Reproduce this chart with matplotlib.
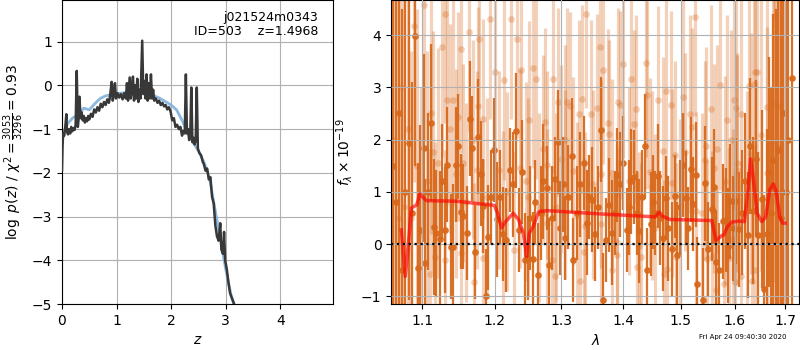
"""
redshift fit summary: p(z) and 1D spectrum (grizli style)
"""

import matplotlib
matplotlib.use('Agg')
import matplotlib.pyplot as plt
import numpy as np
from matplotlib.ticker import NullLocator

# ---- p(z) ----
pz_z = [0.00, 0.01, 0.02, 0.04, 0.06, 0.08, 0.09, 0.11, 0.13, 0.15, 0.17, 0.19, 0.21, 0.23, 0.25,
        0.27, 0.29, 0.31, 0.32, 0.34, 0.36, 0.38, 0.40, 0.42, 0.44, 0.46, 0.48, 0.50, 0.53, 0.56,
        0.59, 0.62, 0.65, 0.68, 0.71, 0.74, 0.77, 0.80, 0.83, 0.86, 0.88, 0.91, 0.93, 0.95, 0.97,
        0.99, 1.02, 1.05, 1.08, 1.11, 1.14, 1.17, 1.19, 1.21, 1.24, 1.26, 1.28, 1.30, 1.32, 1.34,
        1.36, 1.38, 1.40, 1.42, 1.44, 1.47, 1.49, 1.51, 1.53, 1.55, 1.57, 1.59, 1.61, 1.63, 1.65,
        1.67, 1.69, 1.72, 1.75, 1.78, 1.81, 1.84, 1.87, 1.90, 1.93, 1.96, 1.99, 2.02, 2.05, 2.08,
        2.11, 2.14, 2.17, 2.20, 2.22, 2.25, 2.27, 2.29, 2.31, 2.33, 2.35, 2.37, 2.39, 2.41, 2.43,
        2.45, 2.47, 2.49, 2.52, 2.55, 2.58, 2.60, 2.63, 2.66, 2.69, 2.72, 2.75, 2.78, 2.81, 2.84,
        2.87, 2.90, 2.92, 2.95, 2.97, 2.99, 3.02, 3.05, 3.08, 3.11, 3.14, 3.17]
pz_logp = [-1.94, -1.40, -1.10, -1.15, -0.95, -0.66, -1.05, -1.12, -1.00, -1.10, -0.95, -1.05, -0.98, -1.02, -0.90,
           0.33, -0.95, -0.70, -0.26, -0.75, -0.62, -0.80, -0.70, -0.85, -0.75, -0.82, -0.70, -0.78, -0.65, -0.72,
           -0.55, -0.62, -0.50, -0.58, -0.42, -0.50, -0.38, -0.45, -0.32, -0.40, -0.25, 0.08, -0.35, -0.20, 0.05,
           -0.30, -0.18, -0.28, -0.20, -0.32, -0.18, -0.30, 0.05, -0.35, 0.18, -0.30, -0.10, 0.20, -0.35, 0.00,
           -0.30, 0.15, -0.38, -0.10, -0.30, 1.02, -0.20, 0.10, -0.30, 0.25, -0.35, 0.05, -0.30, 0.25, -0.30,
           -0.10, -0.35, -0.30, -0.40, -0.35, -0.45, -0.40, -0.48, -0.45, -0.55, -0.50, -0.60, -0.80, -0.75, -0.95,
           -0.90, -1.00, -0.95, -1.15, -1.05, -1.10, 0.25, -1.10, -1.00, -1.25, -1.15, -0.05, -1.30, -1.20, -1.35,
           -1.25, -0.05, -1.45, -1.55, -1.60, -1.75, -1.80, -1.95, -1.90, -2.15, -2.10, -2.55, -2.70, -3.20, -3.45,
           -3.55, -3.15, -3.75, -3.85, -3.35, -4.00, -4.20, -4.50, -4.75, -4.85, -4.95, -5.05]

prior_z = [0.00, 0.05, 0.10, 0.20, 0.30, 0.40, 0.50, 0.60, 0.70, 0.80, 1.00, 1.20, 1.40, 1.60, 1.80,
           2.00, 2.10, 2.20, 2.30, 2.40, 2.50, 2.60, 2.70, 2.80, 2.90, 3.00, 3.10, 3.15]
prior_logp = [-1.30, -1.00, -0.88, -0.74, -0.68, -0.52, -0.56, -0.42, -0.30, -0.24, -0.19, -0.16, -0.15, -0.19, -0.30,
              -0.45, -0.56, -0.80, -1.08, -1.30, -1.50, -1.75, -2.10, -2.80, -3.50, -4.20, -4.80, -5.00]

# ---- spectrum, first orient (dark) ----
wave_a = [1.062, 1.066, 1.070, 1.074, 1.078, 1.083, 1.087, 1.091, 1.094, 1.097, 1.102, 1.104, 1.108, 1.112, 1.116,
          1.119, 1.124, 1.127, 1.130, 1.134, 1.139, 1.141, 1.146, 1.148, 1.153, 1.156, 1.161, 1.165, 1.168, 1.172,
          1.176, 1.180, 1.183, 1.187, 1.190, 1.195, 1.199, 1.203, 1.208, 1.212, 1.217, 1.222, 1.227, 1.231, 1.236,
          1.240, 1.245, 1.249, 1.252, 1.256, 1.260, 1.264, 1.268, 1.272, 1.277, 1.281, 1.286, 1.290, 1.294, 1.298,
          1.302, 1.306, 1.311, 1.316, 1.319, 1.324, 1.329, 1.336, 1.340, 1.344, 1.348, 1.353, 1.358, 1.363, 1.367,
          1.371, 1.377, 1.382, 1.386, 1.390, 1.395, 1.400, 1.406, 1.410, 1.414, 1.419, 1.423, 1.427, 1.432, 1.437,
          1.441, 1.447, 1.451, 1.455, 1.460, 1.464, 1.468, 1.473, 1.478, 1.485, 1.490, 1.494, 1.499, 1.504, 1.510,
          1.514, 1.519, 1.523, 1.527, 1.530, 1.540, 1.545, 1.550, 1.557, 1.561, 1.565, 1.571, 1.578, 1.583, 1.587,
          1.592, 1.598, 1.603, 1.608, 1.614, 1.620, 1.626, 1.630, 1.636, 1.642, 1.646, 1.653, 1.658, 1.664, 1.668,
          1.672, 1.676, 1.681, 1.686, 1.691, 1.696, 1.701, 1.706, 1.714]
flux_a = [1.50, 0.80, 2.50, -0.50, 1.00, 1.93, 0.60, 3.99, -0.45, 0.27, 1.83, -0.36, 1.00, 2.32, 0.32,
          0.21, 0.10, 1.20, 0.27, 1.52, -0.05, -0.05, 1.52, 1.87, 0.62, 0.53, 0.21, 2.40, 1.83, -0.15,
          2.05, 1.35, 0.72, -1.00, 0.13, 0.90, 1.80, 0.47, 0.90, 0.20, 0.08, 1.42, 1.14, 2.17, 0.27,
          1.38, -0.30, -0.27, 0.50, -0.28, 0.80, -0.60, 0.60, 1.20, 1.07, -0.41, 0.50, 1.25, 1.95, 0.30,
          1.14, 0.12, 0.90, 1.69, -0.30, 0.60, 1.14, 1.55, 0.41, 0.90, 0.85, 0.20, 0.70, 2.19, -1.08,
          0.08, 0.74, 0.22, 0.60, 1.33, 1.14, 1.55, 0.27, 0.70, 1.20, 1.29, 0.60, 0.25, 0.90, 1.87,
          -0.50, 0.38, 0.80, 0.60, 1.30, 0.50, 0.11, 0.88, 0.30, -0.10, 0.91, -0.20, 0.70, 1.51, 0.88,
          0.30, 1.43, 0.76, 1.33, -0.77, -1.08, 1.16, -0.10, 0.67, 1.10, -0.34, -0.50, 0.44, 0.46, -0.03,
          0.82, 0.30, 0.82, 0.28, 0.60, 1.20, 0.17, 1.87, 0.64, 1.63, 0.17, 0.86, -0.86, 0.20, 1.38,
          0.60, 1.60, 1.00, 1.80, 0.50, 2.50, 1.00, 2.00, 3.18]
err_a = [6.0, 5.5, 5.0, 5.0, 4.5, 3.0, 2.5, 2.5, 2.0, 2.0, 1.8, 1.6, 1.5, 1.5, 1.3,
         1.2, 1.3, 1.1, 1.2, 1.1, 1.0, 1.2, 1.1, 1.0, 1.1, 1.0, 0.9, 1.1, 1.0, 0.9,
         1.1, 1.0, 0.9, 0.9, 1.0, 0.9, 1.0, 1.1, 0.9, 0.9, 1.0, 0.8, 1.0, 1.1, 0.8,
         1.0, 0.9, 0.8, 1.0, 0.9, 0.8, 1.0, 0.9, 1.1, 0.8, 0.9, 1.0, 0.8, 1.0, 0.9,
         0.9, 0.8, 1.0, 1.1, 0.8, 0.9, 1.0, 0.9, 1.0, 0.8, 1.0, 0.9, 0.8, 1.0, 0.9,
         0.8, 0.9, 1.0, 0.8, 0.9, 1.0, 0.9, 0.8, 0.9, 1.0, 0.9, 0.8, 1.0, 0.9, 1.0,
         0.8, 1.0, 0.9, 0.8, 1.0, 0.9, 1.0, 0.8, 1.0, 0.9, 0.8, 1.0, 0.9, 1.0, 0.9,
         0.8, 1.0, 0.9, 1.0, 0.9, 1.0, 1.1, 0.9, 1.0, 1.1, 1.0, 0.9, 1.1, 1.0, 1.1,
         1.1, 1.0, 1.2, 1.1, 1.2, 1.3, 1.2, 1.3, 1.4, 1.5, 1.6, 1.7, 1.8, 2.0, 2.2,
         2.4, 2.8, 3.5, 4.0, 4.5, 5.0, 5.5, 6.0, 6.0]

# ---- spectrum, second orient (light) ----
wave_b = [1.064, 1.069, 1.073, 1.077, 1.081, 1.085, 1.089, 1.093, 1.098, 1.103, 1.107, 1.110, 1.112, 1.114, 1.117,
          1.121, 1.127, 1.130, 1.131, 1.134, 1.137, 1.141, 1.146, 1.149, 1.152, 1.153, 1.156, 1.160, 1.164, 1.169,
          1.170, 1.175, 1.176, 1.178, 1.183, 1.184, 1.189, 1.194, 1.201, 1.206, 1.212, 1.213, 1.218, 1.224, 1.228,
          1.232, 1.237, 1.239, 1.246, 1.249, 1.251, 1.257, 1.261, 1.266, 1.272, 1.274, 1.277, 1.278, 1.286, 1.287,
          1.290, 1.292, 1.294, 1.300, 1.305, 1.306, 1.308, 1.314, 1.319, 1.324, 1.328, 1.329, 1.332, 1.335, 1.338,
          1.339, 1.347, 1.350, 1.356, 1.362, 1.363, 1.364, 1.366, 1.374, 1.377, 1.381, 1.382, 1.389, 1.390, 1.391,
          1.395, 1.399, 1.409, 1.413, 1.418, 1.422, 1.424, 1.426, 1.430, 1.439, 1.440, 1.445, 1.450, 1.455, 1.460,
          1.469, 1.470, 1.473, 1.475, 1.482, 1.484, 1.489, 1.492, 1.498, 1.504, 1.507, 1.516, 1.520, 1.526, 1.528,
          1.538, 1.544, 1.547, 1.548, 1.556, 1.557, 1.561, 1.564, 1.566, 1.573, 1.579, 1.582, 1.585, 1.590, 1.594,
          1.598, 1.599, 1.600, 1.602, 1.604, 1.605, 1.612, 1.613, 1.625, 1.628, 1.632, 1.634, 1.638, 1.639, 1.640,
          1.643, 1.651, 1.663, 1.664, 1.676, 1.678, 1.679, 1.686, 1.690, 1.695]
flux_b = [2.00, 0.50, 3.00, 0.70, 2.20, 0.50, 4.18, 1.50, 0.20, 4.58, 1.20, -0.58, 2.50, 1.77, -0.24,
          1.55, 3.77, -0.30, 4.41, 2.75, 2.21, 2.75, 1.35, 2.44, 3.74, -0.18, 1.55, 0.80, 4.06, 2.00,
          -0.73, 1.42, 2.64, 3.93, 2.40, -0.27, 0.90, 4.30, 3.30, 1.42, 0.27, 3.13, 1.00, 4.30, -0.12,
          3.93, 1.45, 3.33, 1.20, 0.90, 2.37, 3.36, 3.15, 0.70, 1.81, 2.34, 0.41, 1.52, -0.30, 3.16,
          -0.62, 0.70, 2.72, 1.63, 1.14, 2.00, 2.72, 2.64, 1.40, 0.54, 2.49, -0.70, 2.77, -0.16, 0.35,
          4.40, 2.49, 1.14, 2.61, 3.77, 1.35, 0.38, 3.33, 2.32, 2.10, 1.36, -0.50, 0.04, -0.20, 2.72,
          2.66, 3.44, 1.20, 3.16, 2.30, 2.58, -0.43, -0.04, -0.24, 3.47, 2.85, 1.38, 1.12, 0.30, 2.75,
          1.78, -0.57, 2.93, -0.47, 2.66, 1.16, 1.71, -0.25, 0.60, 2.81, 1.76, 2.49, 2.24, 4.35, 0.63,
          0.60, 1.60, 1.87, -0.29, 2.58, -0.22, 1.45, -0.88, 1.81, 3.04, -0.76, 1.21, 2.38, -0.27, 2.00,
          0.10, 2.75, -0.72, 2.60, 1.56, 1.41, 2.49, -0.62, 0.72, 3.03, 1.73, -0.71, 3.06, 3.29, -0.50,
          3.30, 2.09, 1.36, 2.62, 1.96, 2.68, 4.37, 1.83, 2.64, 1.00]
err_b = [5.0, 5.0, 4.5, 4.0, 3.5, 3.2, 3.0, 3.0, 2.8, 2.6, 2.5, 2.4, 2.3, 2.3, 2.2,
         2.2, 2.1, 2.1, 2.1, 2.0, 2.0, 2.0, 2.0, 2.0, 2.0, 1.9, 1.9, 1.9, 1.9, 1.9,
         1.9, 1.9, 1.9, 1.9, 1.9, 1.9, 1.9, 1.9, 1.9, 1.9, 1.9, 1.9, 1.9, 1.9, 1.9,
         1.9, 1.9, 1.9, 1.9, 1.9, 1.9, 1.9, 1.9, 1.8, 1.8, 1.8, 1.8, 1.8, 1.8, 1.8,
         1.8, 1.8, 1.8, 1.8, 1.8, 1.8, 1.8, 1.8, 1.8, 1.8, 1.8, 1.8, 1.8, 1.8, 1.8,
         1.8, 1.8, 1.8, 1.8, 1.8, 1.8, 1.8, 1.8, 1.8, 1.8, 1.8, 1.8, 1.8, 1.8, 1.8,
         1.8, 1.8, 1.8, 1.8, 1.8, 1.8, 1.8, 1.8, 1.8, 1.8, 1.8, 1.8, 1.8, 1.8, 1.8,
         1.8, 1.8, 1.8, 1.8, 1.8, 1.8, 1.8, 1.8, 1.8, 1.9, 1.9, 1.9, 1.9, 1.9, 1.9,
         1.9, 1.9, 1.9, 1.9, 2.0, 2.0, 2.0, 2.0, 2.0, 2.0, 2.0, 2.0, 2.0, 2.1, 2.1,
         2.1, 2.1, 2.1, 2.1, 2.1, 2.2, 2.2, 2.2, 2.2, 2.3, 2.3, 2.3, 2.4, 2.4, 2.4,
         2.5, 2.6, 2.8, 2.9, 3.2, 3.4, 3.6, 3.8, 4.0, 4.2]

# ---- best-fit model ----
model_wave = [1.073, 1.078, 1.082, 1.086, 1.093, 1.097, 1.102, 1.106, 1.146, 1.1995, 1.204, 1.210, 1.216, 1.227,
              1.235, 1.242, 1.247, 1.251, 1.257, 1.265, 1.278, 1.357, 1.455, 1.462, 1.468, 1.481, 1.557, 1.565,
              1.574, 1.580, 1.586, 1.595, 1.608, 1.619, 1.626, 1.631, 1.635, 1.644, 1.653, 1.661, 1.669, 1.676,
              1.682, 1.689, 1.695, 1.700]
model_flux = [0.27, -0.62, -0.01, 0.69, 0.75, 0.96, 0.88, 0.83, 0.82, 0.74, 0.60, 0.31, 0.43, 0.59,
              0.47, 0.21, -0.24, 0.21, 0.34, 0.62, 0.64, 0.58, 0.52, 0.61, 0.53, 0.47, 0.45, 0.07,
              0.15, 0.18, 0.33, 0.42, 0.44, 0.43, 1.04, 1.63, 1.36, 0.59, 0.43, 0.52, 1.04, 1.15,
              1.01, 0.53, 0.40, 0.40]

wave_ticks = [1.1, 1.2, 1.3, 1.4, 1.5, 1.6, 1.7]

dark_col = '#d8691c'

fig = plt.figure(figsize=(8, 3.5), dpi=100)

# 왼쪽: p(z)
ax1 = fig.add_axes([0.0775, 0.131, 0.339, 0.869])
ax1.plot(prior_z, prior_logp, color='#7fb2dc', linewidth=2, alpha=0.9, zorder=2)
ax1.plot(pz_z, pz_logp, color='0.22', linewidth=1.8, zorder=3)
ax1.set_xlim(0, 4.97)
ax1.set_ylim(-5, 1.95)
ax1.set_xticks([0, 1, 2, 3, 4])
ax1.set_yticks([-5, -4, -3, -2, -1, 0, 1])
ax1.grid(True, color='#b0b0b0', linewidth=0.8)
ax1.set_xlabel('$z$')
ax1.set_ylabel(r'$\log\ p(z)$ / $\chi^2=\frac{3053}{3296}=0.93$')
ax1.text(0.945, 0.965, 'j021524m0343\nID=503    z=1.4968', transform=ax1.transAxes,
         ha='right', va='top', fontsize=9, linespacing=1.1)

# 오른쪽: spectrum
ax2 = fig.add_axes([0.489, 0.131, 0.51, 0.869])
ax2.errorbar(wave_b, flux_b, yerr=err_b, color=dark_col, alpha=0.3, marker='o', markersize=4.8,
             markeredgewidth=0, linestyle='None', elinewidth=2.3, capsize=0, zorder=1)
ax2.errorbar(wave_a, flux_a, yerr=err_a, color=dark_col, alpha=0.95, marker='o', markersize=4.8,
             markeredgewidth=0, linestyle='None', elinewidth=1.6, capsize=0, zorder=2)
ax2.plot(model_wave, model_flux, color='red', alpha=0.65, linewidth=2.5, zorder=4)
ax2.axhline(0, color='black', linestyle=':', linewidth=1.6, zorder=5)
ax2.set_xscale('log')
ax2.set_xlim(1.06, 1.729)
ax2.set_ylim(-1.15, 4.67)
ax2.set_xticks(wave_ticks)
ax2.set_xticklabels(['%.1f' % w for w in wave_ticks])
ax2.xaxis.set_minor_locator(NullLocator())
ax2.set_yticks([-1, 0, 1, 2, 3, 4])
ax2.set_axisbelow(False)
ax2.grid(True, color='#b0b0b0', linewidth=0.8, zorder=3)
ax2.set_xlabel(r'$\lambda$')
ax2.set_ylabel(r'$f_\lambda\times10^{-19}$')

fig.text(0.983, 0.03, 'Fri Apr 24 09:40:30 2020', ha='right', va='bottom', fontsize=5)

plt.savefig('out.png', dpi=100)
